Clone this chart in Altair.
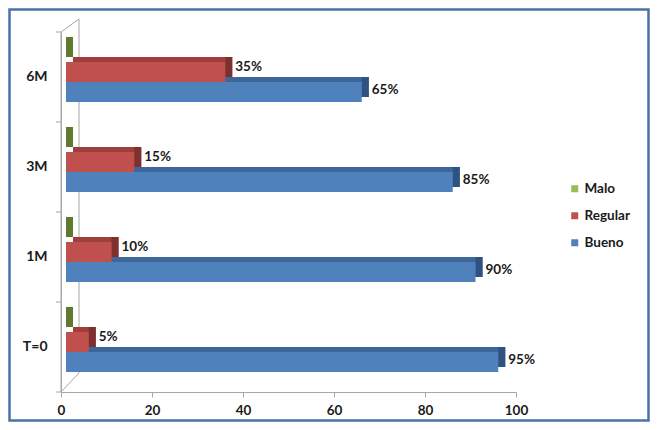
import altair as alt
import pandas as pd

# ---- data ----
categories = ["T=0", "1M", "3M", "6M"]
series = ["Malo", "Regular", "Bueno"]
malo = [0, 0, 0, 0]
regular = [5, 10, 15, 35]
bueno = [95, 90, 85, 65]
x_ticks = [0, 20, 40, 60, 80, 100]

front_colors = ["#9BBB59", "#C0504D", "#4F81BD"]
top_colors = ["#7E9A45", "#9E3F3C", "#3D6699"]
side_colors = ["#5F7A2E", "#7D302E", "#2F5280"]

rows = []
for i, c in enumerate(categories):
    for s, vals in zip(series, [malo, regular, bueno]):
        rows.append({"cat": c, "serie": s, "val": vals[i], "label": f"{vals[i]}%"})
df = pd.DataFrame(rows)

cat_order = list(reversed(categories))
W, H = 455, 360
PAD = {"left": 53, "top": 24, "right": 134, "bottom": 30}
FONT = "Lato"
GRAY = "#A6A6A6"
TXT = "#1a1a1a"

x_enc = alt.X(
    "val:Q",
    scale=alt.Scale(domain=[0, 100], nice=False),
    axis=alt.Axis(values=x_ticks, title=None, grid=False, domainColor=GRAY,
                  tickColor=GRAY, tickSize=5, labelPadding=6, labelFont=FONT,
                  labelFontSize=13.5, labelFontWeight="bold", labelColor=TXT,
                  labelFlush=False),
)
y_axis = alt.Axis(title=None, ticks=False, domainColor=GRAY, labelPadding=14,
                  labelFont=FONT, labelFontSize=14, labelFontWeight="bold",
                  labelColor=TXT)
y_scale = alt.Scale(paddingInner=0, paddingOuter=0)


def y_enc(band=0.5):
    return alt.Y("cat:N", sort=cat_order, scale=y_scale, axis=y_axis, bandPosition=band)


def off(rng):
    return alt.YOffset("serie:N", sort=series,
                       scale=alt.Scale(domain=series, range=rng,
                                       paddingInner=0, paddingOuter=0))


base = alt.Chart(df)

# top face (depth) of each bar
top_face = base.mark_bar(xOffset=12, x2Offset=5).encode(
    x=x_enc, y=y_enc(), yOffset=off([5, 65]),
    color=alt.Color("serie:N", scale=alt.Scale(domain=series, range=top_colors), legend=None),
)
# right side face of each bar
side_face = base.mark_bar(xOffset=12, x2Offset=5).encode(
    x=x_enc, x2="val:Q", y=y_enc(), yOffset=off([5, 65]),
    color=alt.Color("serie:N", scale=alt.Scale(domain=series, range=side_colors), legend=None),
)
# front face
front = base.mark_bar(xOffset=5, x2Offset=5).encode(
    x=x_enc, y=y_enc(), yOffset=off([10, 70]),
    color=alt.Color("serie:N", scale=alt.Scale(domain=series, range=front_colors),
                    sort=series,
                    legend=alt.Legend(title=None, orient="none", legendX=507, legendY=150,
                                      symbolType="square", symbolSize=49,
                                      symbolStrokeWidth=0, labelFont=FONT,
                                      labelFontSize=13.5, labelFontWeight="bold",
                                      labelColor=TXT, rowPadding=12, labelOffset=3)),
)


def label_layer(serie, dy):
    return base.transform_filter(
        f"datum.serie == '{serie}' && datum.val > 0"
    ).mark_text(
        align="left", baseline="middle", dx=15, dy=dy, font=FONT, fontSize=13.5,
        fontWeight="bold", color=TXT,
    ).encode(x=x_enc, y=y_enc(), text="label:N")


labels_reg = label_layer("Regular", -10)
labels_bue = label_layer("Bueno", 13)

# category separator ticks on the wall edge
sep = base.transform_filter("datum.serie == 'Bueno'").mark_rule(color=GRAY).encode(
    y=y_enc(0), x=alt.value(-5), x2=alt.value(0),
)

# 3-D side wall outline and chart frame (decoration)
deco = pd.DataFrame({"k": [0]})
wall_front = alt.Chart(deco).mark_rule(color=GRAY).encode(
    x=alt.value(0), x2=alt.value(0), y=alt.value(0), y2=alt.value(H))
wall_back = alt.Chart(deco).mark_rule(color=GRAY).encode(
    x=alt.value(18), x2=alt.value(18), y=alt.value(-13), y2=alt.value(H - 19))
wall_top = alt.Chart(deco).mark_rule(color=GRAY).encode(
    x=alt.value(0), x2=alt.value(18), y=alt.value(0), y2=alt.value(-13))
wall_bot = alt.Chart(deco).mark_rule(color=GRAY).encode(
    x=alt.value(0), x2=alt.value(18), y=alt.value(H), y2=alt.value(H - 19))
wall_tick = alt.Chart(deco).mark_rule(color=GRAY).encode(
    x=alt.value(-5), x2=alt.value(0), y=alt.value(H), y2=alt.value(H))
frame = alt.Chart(deco).mark_rect(fill=None, stroke="#4A72A6", strokeWidth=2.5).encode(
    x=alt.value(-PAD["left"] + 1.5), x2=alt.value(W + PAD["right"] - 1.5),
    y=alt.value(-PAD["top"] + 1.5), y2=alt.value(H + PAD["bottom"] - 1.5),
)

chart = alt.layer(
    wall_front, wall_back, wall_top, wall_bot, wall_tick, sep,
    top_face, side_face, front, labels_reg, labels_bue, frame,
).resolve_scale(
    yOffset="independent", color="independent"
).properties(
    width=W, height=H, padding=PAD, autosize=alt.AutoSizeParams(type="none"),
    background="white",
).configure_view(stroke=None)

chart.save("out.html", embed_options={"renderer": "svg", "actions": False})
